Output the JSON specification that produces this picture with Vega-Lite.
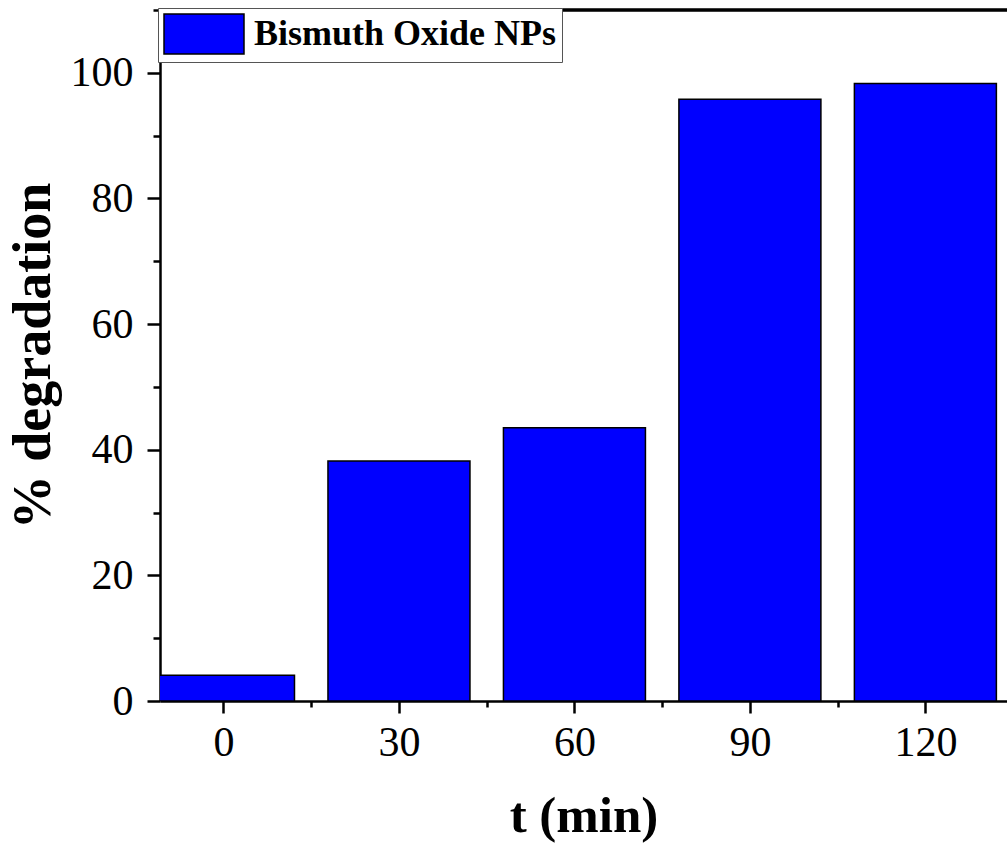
{
  "$schema": "https://vega.github.io/schema/vega-lite/v6.json",
  "width": 847,
  "height": 691,
  "autosize": {"type": "none"},
  "padding": {"left": 160, "top": 10, "right": 0, "bottom": 145},
  "background": "white",
  "config": {
    "view": {"stroke": null},
    "font": "Liberation Serif",
    "axis": {"grid": false, "domainColor": "black", "tickColor": "black", "domainWidth": 2.5, "tickWidth": 2.5, "labelColor": "black", "titleColor": "black", "labelFont": "Liberation Serif", "titleFont": "Liberation Serif"}
  },
  "data": {
    "values": [
      {"t": 0, "deg": 4.1, "series": "Bismuth Oxide NPs"},
      {"t": 30, "deg": 38.2, "series": "Bismuth Oxide NPs"},
      {"t": 60, "deg": 43.5, "series": "Bismuth Oxide NPs"},
      {"t": 90, "deg": 95.8, "series": "Bismuth Oxide NPs"},
      {"t": 120, "deg": 98.3, "series": "Bismuth Oxide NPs"}
    ]
  },
  "layer": [
    {
      "mark": {"type": "bar", "width": 142, "stroke": "black", "strokeWidth": 1.5, "clip": true},
      "encoding": {
        "x": {
          "field": "t", "type": "quantitative",
          "scale": {"domain": [-10, 133.1], "nice": false, "zero": false},
          "axis": {
            "values": [0, 15, 30, 45, 60, 75, 90, 105, 120],
            "labelExpr": "datum.value % 30 === 0 ? datum.label : ''",
            "tickSize": {"condition": {"test": "datum.value % 30 === 0", "value": 12}, "value": 6},
            "labelFontSize": 42,
            "labelPadding": 9,
            "labelFlush": false,
            "title": "t (min)",
            "titleFontSize": 51,
            "titleFontWeight": "bold",
            "titlePadding": 28
          }
        },
        "y": {
          "field": "deg", "type": "quantitative",
          "scale": {"domain": [0, 110], "nice": false},
          "axis": {
            "values": [0, 10, 20, 30, 40, 50, 60, 70, 80, 90, 100, 110],
            "labelExpr": "datum.value % 20 === 0 && datum.value <= 100 ? datum.label : ''",
            "tickSize": {"condition": {"test": "datum.value % 20 === 0", "value": 13}, "value": 7},
            "labelFontSize": 42,
            "labelPadding": 14,
            "labelFlush": false,
            "title": "% degradation",
            "titleFontSize": 54,
            "titleFontWeight": "bold",
            "titlePadding": 10
          }
        },
        "color": {
          "field": "series", "type": "nominal",
          "scale": {"domain": ["Bismuth Oxide NPs"], "range": ["#0000ff"]},
          "legend": {
            "title": null,
            "orient": "none",
            "legendX": -2,
            "legendY": -2,
            "symbolType": "M-1,-1H3V1H-1Z",
            "symbolSize": 1600,
            "symbolStrokeColor": "black",
            "symbolStrokeWidth": 1.5,
            "symbolOpacity": 1,
            "labelFont": "Liberation Serif",
            "labelFontWeight": "bold",
            "labelFontSize": 36,
            "labelColor": "black",
            "labelOffset": 49,
            "labelLimit": 600,
            "fillColor": "white",
            "strokeColor": "#555555",
            "padding": 5
          }
        }
      }
    },
    {
      "mark": {"type": "rule", "color": "black", "strokeWidth": 2.5},
      "encoding": {"y": {"datum": 110}}
    }
  ]
}
